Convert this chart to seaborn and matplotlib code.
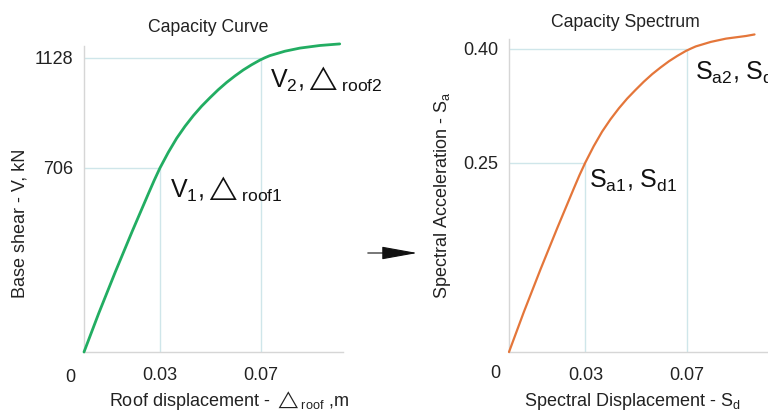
import numpy as np
import pandas as pd
import matplotlib
matplotlib.use("Agg")
import matplotlib.pyplot as plt
import seaborn as sns

# -----------------------------
# Data (schematic curves)
# -----------------------------
roof_disp = [0, 0.0058, 0.0124, 0.019, 0.0255, 0.02775, 0.03, 0.0333, 0.0366,
             0.0399, 0.0432, 0.04645, 0.0497, 0.053, 0.0563, 0.0596, 0.0629,
             0.0662, 0.0695, 0.07145, 0.0734, 0.07935, 0.0853, 0.0932, 0.101]
base_shear = [0, 148, 308, 462, 609, 659, 706, 766, 820,
              866, 907, 943, 975, 1006, 1034, 1059, 1082,
              1102, 1120, 1129, 1137, 1154, 1166, 1176, 1182]

spec_disp = [0, 0.0058, 0.0124, 0.019, 0.0255, 0.02775, 0.03, 0.0333, 0.0366,
             0.0399, 0.0432, 0.04645, 0.0497, 0.053, 0.0563, 0.0596, 0.0629,
             0.0662, 0.0695, 0.07145, 0.0734, 0.07935, 0.0853, 0.0932, 0.0965]
spec_acc = [0, 0.0525, 0.1092, 0.1638, 0.2160, 0.2337, 0.250, 0.2716, 0.2908,
            0.3071, 0.3216, 0.3344, 0.3457, 0.3567, 0.3667, 0.3755, 0.3837,
            0.3908, 0.3972, 0.4003, 0.4032, 0.4092, 0.4135, 0.4170, 0.4190]

# performance points marked on each curve
curve_pts_x = [0.03, 0.07]
curve_pts_y = [706, 1128]
spec_pts_x = [0.03, 0.07]
spec_pts_y = [0.25, 0.40]

x_ticks = [0.03, 0.07]
x_tick_labels = ["0.03", "0.07"]
curve_y_labels = ["706", "1128"]
spec_y_labels = ["0.25", "0.40"]

curve_df = pd.DataFrame({"disp": roof_disp, "shear": base_shear})
spec_df = pd.DataFrame({"sd": spec_disp, "sa": spec_acc})

# -----------------------------
# Style
# -----------------------------
sns.set_theme(style="white")
plt.rcParams["font.family"] = ["Liberation Sans", "DejaVu Sans"]
plt.rcParams["mathtext.fontset"] = "custom"
plt.rcParams["mathtext.rm"] = "Liberation Sans"
plt.rcParams["mathtext.it"] = "Liberation Sans:italic"
plt.rcParams["mathtext.sf"] = "Liberation Sans"
plt.rcParams["mathtext.default"] = "regular"
plt.rcParams["mathtext.fallback"] = "stixsans"

GREEN = "#22ad62"
ORANGE = "#e4763a"
GUIDE = "#cfe6ea"
SPINE = "#d6d6d6"
TXT = "#222222"
W, H = 768, 412

fig = plt.figure(figsize=(7.68, 4.12), dpi=100)
ax1 = fig.add_axes([84 / W, 60 / H, 259 / W, 306 / H])
ax2 = fig.add_axes([509 / W, 60 / H, 259 / W, 313 / H])


def style_axes(ax):
    for s in ["top", "right"]:
        ax.spines[s].set_visible(False)
    for s in ["left", "bottom"]:
        ax.spines[s].set_color(SPINE)
        ax.spines[s].set_linewidth(1.0)
    ax.grid(False)
    ax.tick_params(axis="y", length=0, pad=8, labelsize=13, labelcolor=TXT)
    ax.tick_params(axis="x", length=0, pad=11, labelsize=13, labelcolor=TXT)


# ---- left: capacity curve ----
for px, py in zip(curve_pts_x, curve_pts_y):
    ax1.hlines(py, 0, px, color=GUIDE, lw=1, zorder=1)
    ax1.vlines(px, 0, py, color=GUIDE, lw=1, zorder=1)
sns.lineplot(data=curve_df, x="disp", y="shear", ax=ax1, color=GREEN,
             lw=2.0, clip_on=False, zorder=3)
ax1.set_xlim(0, 0.1023)
ax1.set_ylim(0, 1174)
ax1.set_xticks(x_ticks, x_tick_labels)
ax1.set_yticks(curve_pts_y, curve_y_labels)
style_axes(ax1)
ax1.annotate("0", xy=(0, 0), xytext=(-14, -25), textcoords="offset pixels",
             ha="center", va="center", fontsize=13, color=TXT)
ax1.set_xlabel(r"Roof displacement - ${\triangle}_{\rm roof}$ ,m", fontsize=13, color=TXT)
ax1.xaxis.set_label_coords(0.558, -0.12)
ax1.set_ylabel("Base shear - V, kN", fontsize=13, color=TXT)
ax1.yaxis.set_label_coords(-0.216, 0.42)

ax1.annotate(r"V$_1$,${\triangle}_{\rm roof1}$", xy=(curve_pts_x[0], curve_pts_y[0]),
             xytext=(10, -30), textcoords="offset pixels", ha="left", va="baseline",
             fontsize=18, color="#111111")
ax1.annotate(r"V$_2$,${\triangle}_{\rm roof2}$", xy=(curve_pts_x[1], curve_pts_y[1]),
             xytext=(9, -30), textcoords="offset pixels", ha="left", va="baseline",
             fontsize=18, color="#111111")

# ---- right: capacity spectrum ----
for px, py in zip(spec_pts_x, spec_pts_y):
    ax2.hlines(py, 0, px, color=GUIDE, lw=1, zorder=1)
    ax2.vlines(px, 0, py, color=GUIDE, lw=1, zorder=1)
sns.lineplot(data=spec_df, x="sd", y="sa", ax=ax2, color=ORANGE,
             lw=1.6, clip_on=False, zorder=3)
ax2.set_xlim(0, 0.1018)
ax2.set_ylim(0, 0.413)
ax2.set_xticks(x_ticks, x_tick_labels)
ax2.set_yticks(spec_pts_y, spec_y_labels)
style_axes(ax2)
ax2.annotate("0", xy=(0, 0), xytext=(-14, -21), textcoords="offset pixels",
             ha="center", va="center", fontsize=13, color=TXT)
ax2.set_xlabel(r"Spectral Displacement - S$_{\rm d}$", fontsize=13, color=TXT)
ax2.xaxis.set_label_coords(0.475, -0.125)
ax2.set_ylabel(r"Spectral Acceleration - S$_{\rm a}$", fontsize=13, color=TXT)
ax2.yaxis.set_label_coords(-0.216, 0.50)

ax2.annotate(r"S$_{\rm a1}$, S$_{\rm d1}$", xy=(spec_pts_x[0], spec_pts_y[0]),
             xytext=(4, -25), textcoords="offset pixels", ha="left", va="baseline",
             fontsize=18, color="#111111")
ax2.annotate(r"S$_{\rm a2}$, S$_{\rm d2}$", xy=(spec_pts_x[1], spec_pts_y[1]),
             xytext=(8, -31), textcoords="offset pixels", ha="left", va="baseline",
             fontsize=18, color="#111111", annotation_clip=False)

# ---- titles and the arrow between panels ----
fig.text(208 / W, 1 - 32 / H, "Capacity Curve", ha="center", va="baseline",
         fontsize=12.7, color=TXT)
fig.text(625 / W, 1 - 27 / H, "Capacity Spectrum", ha="center", va="baseline",
         fontsize=12.7, color=TXT)
fig.patches.append(matplotlib.patches.FancyArrowPatch(
    (365 / W, 1 - 253 / H), (420 / W, 1 - 253 / H), transform=fig.transFigure,
    arrowstyle="-|>,head_length=1.5,head_width=0.27", mutation_scale=15,
    color="#111111", lw=0.8))

fig.savefig("out.png", dpi=100)
